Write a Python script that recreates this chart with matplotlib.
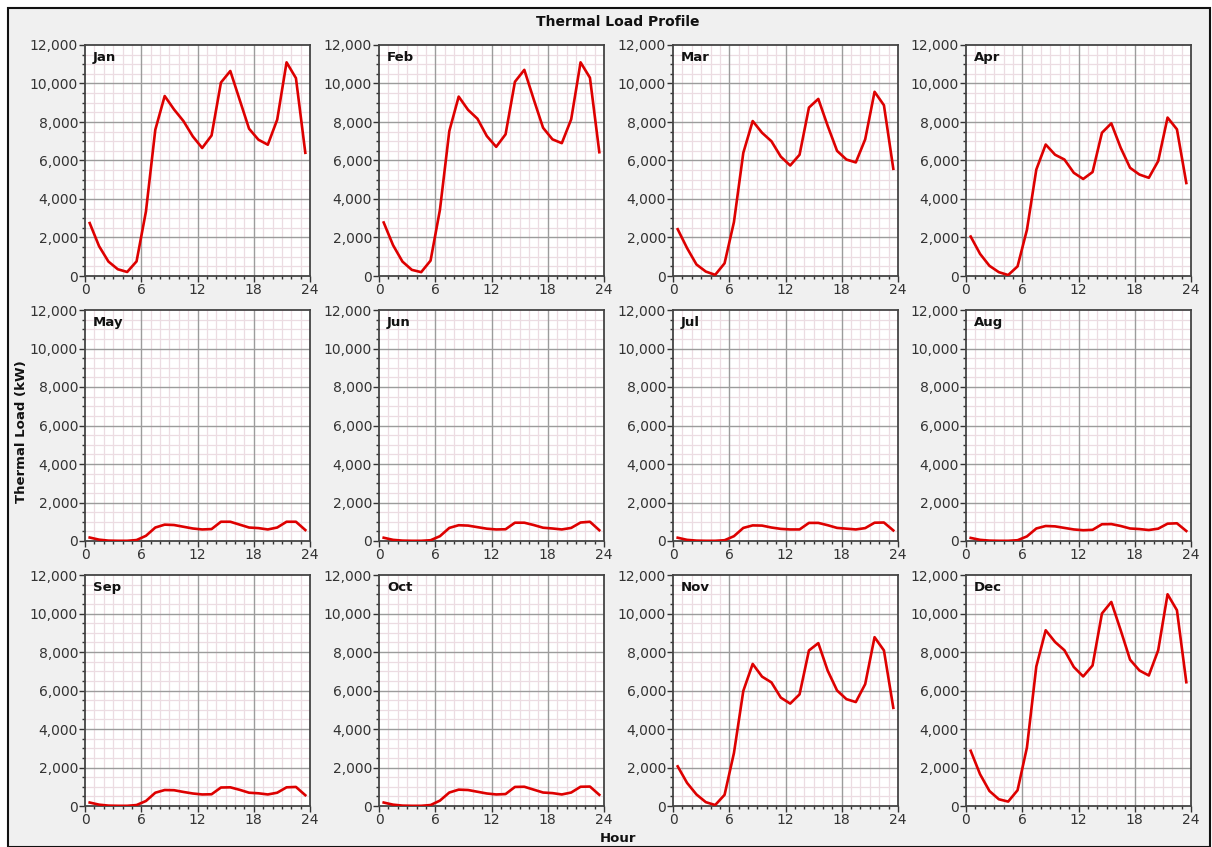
import numpy as np
import matplotlib
matplotlib.use("Agg")
import matplotlib.pyplot as plt
from matplotlib.ticker import MultipleLocator, FuncFormatter
from matplotlib.patches import Rectangle

# Hour-of-day midpoints for the average daily profile
hours = np.arange(24) + 0.5

months = ["Jan", "Feb", "Mar", "Apr", "May", "Jun",
          "Jul", "Aug", "Sep", "Oct", "Nov", "Dec"]

# Average hourly thermal load per month (kW)
jan = [2750, 1550, 750, 350, 210, 760, 3350, 7600, 9350, 8650, 8050, 7250,
       6650, 7300, 10050, 10650, 9150, 7650, 7080, 6820, 8120, 11100, 10280, 6400]
feb = [2780, 1600, 750, 320, 200, 800, 3440, 7530, 9320, 8630, 8170, 7270,
       6710, 7360, 10090, 10710, 9180, 7700, 7100, 6900, 8140, 11100, 10300, 6430]
mar = [2430, 1450, 600, 230, 60, 660, 2800, 6400, 8050, 7440, 7000, 6200,
       5740, 6300, 8750, 9200, 7800, 6500, 6050, 5900, 7100, 9570, 8870, 5570]
apr = [2050, 1150, 530, 200, 50, 500, 2400, 5530, 6830, 6300, 6050, 5360,
       5040, 5400, 7440, 7930, 6660, 5620, 5270, 5100, 5970, 8230, 7620, 4830]
may = [180, 70, 20, 10, 10, 50, 270, 700, 850, 830, 740, 650,
       600, 620, 1000, 1000, 850, 700, 670, 600, 700, 1000, 1000, 570]
jun = [170, 60, 20, 10, 10, 40, 250, 680, 820, 800, 720, 640,
       600, 610, 950, 950, 830, 690, 650, 600, 680, 960, 1000, 560]
jul = [170, 60, 20, 10, 10, 40, 250, 680, 810, 800, 700, 630,
       600, 600, 940, 940, 820, 680, 640, 600, 670, 950, 960, 550]
aug = [160, 60, 20, 10, 10, 40, 240, 650, 780, 760, 680, 600,
       560, 580, 870, 880, 780, 650, 620, 570, 640, 900, 920, 520]
sep = [180, 70, 20, 10, 10, 50, 260, 690, 830, 820, 730, 650,
       600, 610, 960, 970, 840, 690, 660, 600, 690, 970, 990, 560]
oct_ = [180, 70, 20, 10, 10, 50, 280, 700, 850, 830, 740, 650,
        600, 620, 990, 1000, 850, 700, 670, 600, 700, 1000, 1010, 580]
nov = [2060, 1200, 600, 200, 50, 580, 2750, 5980, 7380, 6720, 6420, 5630,
       5320, 5800, 8080, 8460, 7030, 6000, 5550, 5400, 6330, 8770, 8080, 5100]
dec = [2870, 1650, 780, 350, 230, 820, 3040, 7250, 9130, 8520, 8090, 7220,
       6730, 7300, 10000, 10600, 9130, 7600, 7040, 6780, 8090, 11000, 10170, 6430]

loads = [jan, feb, mar, apr, may, jun, jul, aug, sep, oct_, nov, dec]

y_max = 12000

W, H = 1212, 847
fig = plt.figure(figsize=(W / 100, H / 100), dpi=100, facecolor="white")

# Window-style panel background with a dark border
fig.patches.append(Rectangle((8 / W, 0), (1210 - 8) / W, (H - 8) / H,
                             transform=fig.transFigure, facecolor="#f0f0f0",
                             edgecolor="#111111", linewidth=1.5, zorder=-10))

col_left = [85, 379, 673, 966]
row_top = [45, 310, 575]
ax_w, ax_h = 225, 231

comma = FuncFormatter(lambda v, p: f"{int(v):,}")
major_grid = dict(color="#9c9c9c", linewidth=1.0, zorder=0.6)

for i, (name, vals) in enumerate(zip(months, loads)):
    r, c = divmod(i, 4)
    left = col_left[c] / W
    bottom = 1 - (row_top[r] + ax_h) / H
    ax = fig.add_axes([left, bottom, ax_w / W, ax_h / H])
    ax.set_facecolor("white")
    ax.set_xlim(0, 24)
    ax.set_ylim(0, y_max)
    ax.xaxis.set_major_locator(MultipleLocator(6))
    ax.xaxis.set_minor_locator(MultipleLocator(1))
    ax.yaxis.set_major_locator(MultipleLocator(2000))
    ax.yaxis.set_minor_locator(MultipleLocator(500))
    ax.yaxis.set_major_formatter(comma)
    # light minor grid underneath, solid major grid on top of it
    ax.grid(which="minor", color="#ecdce2", linewidth=0.9)
    ax.set_axisbelow(True)
    for xv in ax.get_xticks():
        if 0 < xv < 24:
            ax.axvline(xv, **major_grid)
    for yv in ax.get_yticks():
        if 0 < yv < y_max:
            ax.axhline(yv, **major_grid)
    ax.tick_params(which="major", length=4, width=1, color="#333333",
                   labelsize=10, labelcolor="#333333", pad=1)
    ax.tick_params(which="minor", length=2, width=1, color="#333333")
    for s in ax.spines.values():
        s.set_color("#444444")
        s.set_linewidth(1.3)
    ax.plot(hours, vals, color="#dd0000", linewidth=1.9, solid_joinstyle="round",
            zorder=3)
    ax.text(0.035, 0.975, name, transform=ax.transAxes, ha="left", va="top",
            fontsize=9.5, fontweight="bold", color="#111111", zorder=4)

fig.text(618 / W, 1 - 22 / H, "Thermal Load Profile", ha="center", va="center",
         fontsize=10, fontweight="bold", color="#111111")
fig.text(22 / W, 1 - 432 / H, "Thermal Load (kW)", ha="center", va="center",
         rotation=90, fontsize=9.5, fontweight="bold", color="#111111")
fig.text(618 / W, 1 - 838 / H, "Hour", ha="center", va="center",
         fontsize=9.5, fontweight="bold", color="#111111")

fig.savefig("out.png", dpi=100, facecolor="white")
